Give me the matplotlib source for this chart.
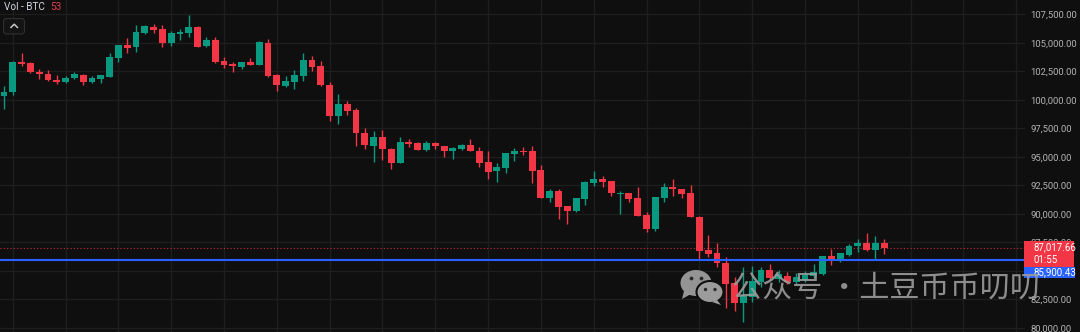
import matplotlib
matplotlib.use("Agg")
import matplotlib.pyplot as plt
import numpy as np
from matplotlib.patches import Ellipse, FancyBboxPatch, Polygon, Rectangle

# 4h candles, BTC
opens = [100331, 100656, 103341, 103200, 102463, 102262, 101735, 101586, 101884, 102200,
         101533, 101797, 102025, 103692, 104806, 104657, 105886, 106412, 106210, 104955,
         105745, 105886, 106412, 104692, 105271, 103402, 103113, 102902, 103288, 103051,
         105008, 102174, 101182, 101586, 102060, 103464, 102937, 101322, 98602, 99629,
         99102, 97111, 95970, 96760, 95680, 94426, 96268, 96233, 95592, 96233,
         95944, 95505, 95707, 96031, 95531, 94513, 93750, 94040, 95215, 95478,
         95505, 93838, 91407, 91995, 90679, 90240, 91293, 92723, 93074, 92872,
         91758, 91793, 91354, 89862, 88660, 91407, 92346, 92197, 91793, 89739,
         86818, 86528, 85703, 83895, 82140, 82667, 84036, 85063, 84272, 84536,
         84036, 84185, 84536, 84685, 86318, 85852, 86379, 87169, 87406, 86818,
         87458]
highs = [101208, 103400, 104078, 103288, 102700, 102613, 102147, 102086, 102411, 102262,
         102086, 102200, 104131, 104850, 105447, 106561, 106520, 106649, 106561, 106035,
         106210, 107439, 106474, 105482, 105482, 103727, 103288, 103341, 103639, 105157,
         105333, 102262, 102086, 102613, 104104, 103841, 103402, 101560, 100507, 99892,
         99278, 97497, 97260, 97348, 95794, 96707, 96532, 96268, 96409, 96295,
         95944, 95882, 96145, 96558, 95882, 95505, 94478, 95356, 95794, 95882,
         95944, 94276, 92170, 92144, 90679, 91407, 92872, 93750, 93311, 92872,
         91995, 91846, 92319, 90126, 91442, 92671, 93048, 92197, 92521, 89801,
         88133, 87406, 86230, 84475, 85352, 85440, 85352, 85589, 85063, 84887,
         84774, 84975, 85589, 86318, 86879, 86580, 87344, 87783, 88282, 88045,
         87783]
lows = [99190, 100419, 102964, 102376, 101797, 101647, 101384, 101498, 101823, 101323,
        101472, 101498, 101972, 103288, 104078, 104218, 105745, 105833, 104631, 104745,
        105245, 105482, 104600, 104657, 103200, 102814, 102463, 102674, 103051, 103051,
        102025, 100796, 101147, 100919, 101647, 102551, 101209, 98137, 97874, 98664,
        95970, 95654, 94513, 94715, 93899, 94426, 95830, 95566, 95478, 95680,
        95005, 94803, 95592, 95505, 94075, 93022, 92811, 93548, 94653, 95154,
        92723, 91354, 91056, 89538, 89099, 90178, 90766, 92433, 92319, 91556,
        89977, 91030, 89801, 88422, 88511, 91056, 91556, 91354, 89687, 86001,
        86230, 85299, 81754, 81491, 80526, 82281, 83597, 84185, 84009, 83834,
        83834, 84009, 84360, 84624, 85501, 85791, 86318, 86668, 86756, 85940,
        86449]
closes = [100708, 103314, 103165, 102411, 102235, 101735, 101586, 101937, 102262, 101560,
          101884, 102147, 103727, 104806, 104543, 105947, 106474, 106123, 104955, 105833,
          105973, 106359, 104657, 105271, 103341, 103051, 102990, 103288, 103078, 105096,
          102112, 101270, 101647, 102147, 103464, 102876, 101322, 98602, 99629, 99041,
          97058, 96031, 96760, 95654, 94426, 96295, 96145, 95592, 96233, 95944,
          95505, 95768, 96031, 95505, 94426, 93688, 94075, 95303, 95505, 95417,
          93750, 91407, 91995, 90617, 90240, 91354, 92811, 93074, 92811, 91793,
          91846, 91293, 89801, 88660, 91442, 92346, 92144, 91758, 89687, 86756,
          86493, 85703, 83860, 82140, 82781, 84097, 85063, 84334, 84712, 84036,
          84422, 84624, 84887, 86318, 85878, 86528, 87195, 87458, 86818, 87458,
          87017.66]

last_price = 87017.66
line_price = 85900.43
countdown = "01:55"
price_ticks = [80000, 82500, 85000, 87500, 90000, 92500, 95000, 97500, 100000, 102500, 105000, 107500]
hidden_ticks = [85000]  # sits under the price boxes
legend_name = "Vol - BTC"
legend_value = "53"
watermark = "公众号 ·土豆币币叨叨"

BG = "#0f0f0f"
GRID = "#1e1e1e"
UP = "#089981"
DOWN = "#f23645"
BLUE = "#2962ff"
LABEL = "#b2b2b2"

W, H = 1080, 332
PLOT_W = 1025
YMIN, YMAX = 79622, 108755
XMIN, XMAX = -0.454, 116.0


def price_to_px(p):
    return (YMAX - p) / (YMAX - YMIN) * H


def draw_candles(ax):
    o = np.array(opens, dtype=float)
    h = np.array(highs, dtype=float)
    l = np.array(lows, dtype=float)
    c = np.array(closes, dtype=float)
    x = np.arange(len(o))
    colors = np.where(c >= o, UP, DOWN)
    ax.vlines(x, l, h, colors=colors, linewidth=1.0, zorder=3)
    bottom = np.minimum(o, c)
    height = np.maximum(np.abs(c - o), 90)
    ax.bar(x, height, bottom=bottom, width=0.78, color=colors, linewidth=0, zorder=4)


def draw_overlay(fig):
    ov = fig.add_axes([0, 0, 1, 1], zorder=10)
    ov.set_xlim(0, W)
    ov.set_ylim(H, 0)
    ov.axis("off")
    ov.patch.set_alpha(0)

    # legend + collapse button
    ov.text(4, 7.5, legend_name, color="#d1d4dc", fontsize=7.2, family="Roboto", va="center", ha="left")
    ov.text(50.5, 7.5, legend_value, color="#e0404c", fontsize=7.2, family="Roboto", va="center", ha="left")
    ov.add_patch(FancyBboxPatch((3.5, 18.5), 21, 15.5, boxstyle="round,pad=0,rounding_size=3",
                                facecolor="#141414", edgecolor="#303030", linewidth=0.8))
    ov.plot([11, 14.2, 17.4], [27.4, 24.2, 27.4], color="#c8c8c8", linewidth=1.1)

    # price boxes on the scale
    y_last = price_to_px(last_price)
    top = y_last - 6.6
    ov.add_patch(Rectangle((1024, top), 49.5, 25.6, facecolor=DOWN, edgecolor="none"))
    ov.text(1034, top + 6.5, f"{last_price:,.2f}", color="white", fontsize=7.0, family="Roboto",
            va="center", ha="left")
    ov.text(1034, top + 18.5, countdown, color="white", fontsize=7.0, family="Roboto",
            va="center", ha="left")
    ov.add_patch(Rectangle((1024, top + 25.6), 51, 11.6, facecolor=BLUE, edgecolor="none"))
    ov.text(1034, top + 31.4, f"{line_price:,.2f}", color="white", fontsize=7.0, family="Roboto",
            va="center", ha="left")

    # watermark
    wm = "#9c9c9c"
    ov.add_patch(Ellipse((696, 283), 31, 26, facecolor=wm, edgecolor="none", alpha=0.95))
    ov.add_patch(Polygon([[684, 291], [682, 299], [691, 294]], facecolor=wm, edgecolor="none", alpha=0.95))
    ov.add_patch(Ellipse((710, 292), 27, 22, facecolor=wm, edgecolor=BG, linewidth=1.5))
    ov.add_patch(Polygon([[717, 300], [721, 305], [712, 302]], facecolor=wm, edgecolor="none"))
    for ex, ey, r in [(691.5, 278.5, 1.9), (701.5, 278.5, 1.9), (705.5, 289.5, 1.7), (715, 289.5, 1.7)]:
        ov.add_patch(Ellipse((ex, ey), 2 * r, 2 * r, facecolor="#2a2a2a", edgecolor="none"))
    ov.text(732, 288, watermark, color=wm, alpha=0.9, fontsize=21.7,
            family=["Noto Sans CJK SC", "DejaVu Sans"], va="center", ha="left")


def main():
    fig = plt.figure(figsize=(W / 100, H / 100), dpi=100, facecolor=BG)
    ax = fig.add_axes([0, 0, PLOT_W / W, 1])
    ax.set_facecolor(BG)
    ax.set_xlim(XMIN, XMAX)
    ax.set_ylim(YMIN, YMAX)

    ax.set_xticks(np.arange(1, 117, 6))
    ax.set_yticks(price_ticks)
    ax.grid(True, color=GRID, linewidth=1.0)
    ax.set_axisbelow(True)
    ax.tick_params(axis="x", length=0, labelbottom=False)
    ax.yaxis.tick_right()
    ax.tick_params(axis="y", length=0, pad=4, labelcolor=LABEL, labelsize=6.8)
    ax.set_yticklabels(["" if t in hidden_ticks else f"{t:,.2f}" for t in price_ticks], family="Roboto")
    for s in ax.spines.values():
        s.set_visible(False)

    draw_candles(ax)
    ax.axhline(last_price, color=DOWN, linewidth=0.8, linestyle=(0, (1, 2)), alpha=0.8, zorder=2)
    ax.axhline(line_price, color=BLUE, linewidth=1.5, zorder=5)

    draw_overlay(fig)
    fig.savefig("out.png", dpi=100, facecolor=BG)
    plt.close(fig)


if __name__ == "__main__":
    main()
